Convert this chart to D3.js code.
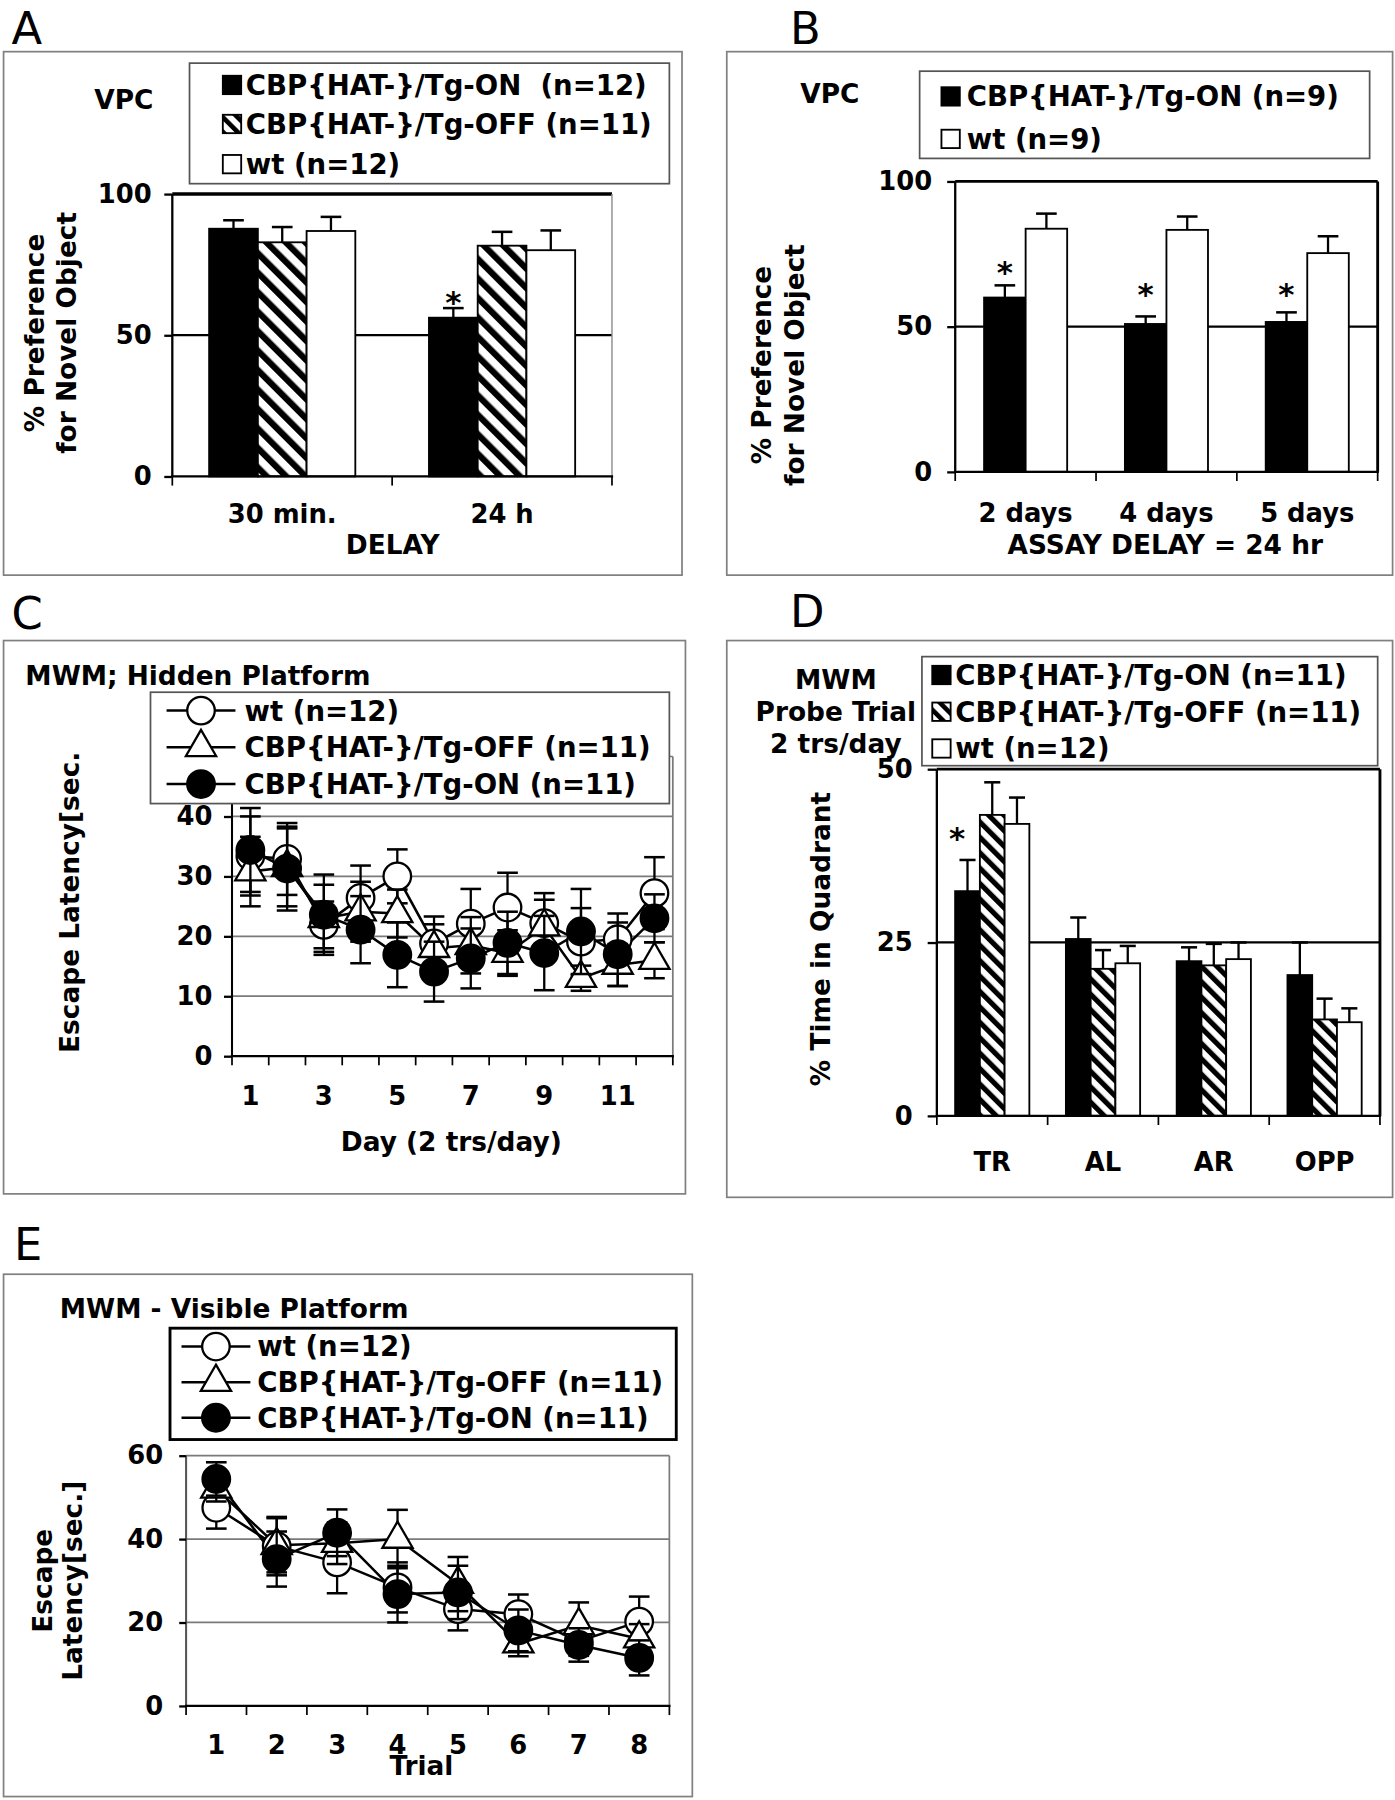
<!DOCTYPE html>
<html>
<head>
<meta charset="utf-8">
<script src="https://cdn.jsdelivr.net/npm/d3@7"></script>
<style>
  body { margin: 0; background: #fff; }
</style>
</head>
<body>
<div id="fig"></div>
<script>
// ---------------------------
// DATA
// ---------------------------

// A: VPC, two delays
const aDelays = ["30 min.", "24 h"];
const aOn = [87.7, 56.2], aOnErr = [3.0, 3.4];
const aOff = [82.9, 81.7], aOffErr = [5.4, 4.9];
const aWt = [86.9, 80.1], aWtErr = [5.0, 7.0];
const aTicks = [0, 50, 100];

// B: VPC, 24 hr delay on days 2/4/5
const bDays = ["2 days", "4 days", "5 days"];
const bOn = [60.0, 50.9, 51.6], bOnErr = [4.2, 2.6, 3.3];
const bWt = [83.7, 83.3, 75.3], bWtErr = [5.2, 4.6, 5.8];
const bTicks = [0, 50, 100];

// C: MWM hidden platform, days 1-12
const cDays = [1, 2, 3, 4, 5, 6, 7, 8, 9, 10, 11, 12];
const cDayLabels = [1, 3, 5, 7, 9, 11];
const cWt = [33.4, 32.9, 21.9, 26.4, 30.0, 18.8, 22.1, 24.8, 22.2, 19.1, 19.5, 27.2];
const cWtErr = [6.6, 6.0, 3.9, 5.4, 4.5, 4.5, 5.8, 5.8, 5.0, 5.6, 4.3, 6.0];
const cOff = [30.8, 31.5, 23.0, 24.1, 23.8, 18.0, 18.5, 17.2, 21.6, 13.0, 15.2, 16.0];
const cOffErr = [5.8, 6.5, 5.6, 5.0, 4.0, 4.0, 4.7, 3.8, 4.5, 2.1, 3.5, 3.0];
const cOn = [34.4, 31.3, 23.6, 21.1, 16.9, 14.1, 16.3, 18.9, 17.2, 20.8, 17.0, 23.0];
const cOnErr = [7.0, 7.0, 6.7, 5.6, 5.4, 5.0, 5.0, 5.2, 6.2, 7.1, 5.3, 4.0];
const cTicks = [0, 10, 20, 30, 40];

// D: probe trial, quadrants
const dQuad = ["TR", "AL", "AR", "OPP"];
const dOn = [32.4, 25.5, 22.3, 20.3], dOnErr = [4.5, 3.1, 2.0, 4.7];
const dOff = [43.4, 21.2, 21.7, 13.9], dOffErr = [4.7, 2.7, 3.1, 3.0];
const dWt = [42.1, 22.0, 22.6, 13.5], dWtErr = [3.8, 2.5, 2.4, 2.0];
const dTicks = [0, 25, 50];

// E: MWM visible platform, trials 1-8
const eTrials = [1, 2, 3, 4, 5, 6, 7, 8];
const eWt = [47.5, 38.3, 34.4, 28.4, 23.2, 22.0, 15.5, 20.2];
const eWtErr = [5.0, 7.0, 7.4, 6.0, 5.1, 4.7, 3.5, 6.0];
const eOff = [52.0, 38.5, 39.0, 40.0, 29.2, 14.9, 19.3, 16.1];
const eOffErr = [3.0, 6.5, 5.0, 7.0, 6.5, 3.0, 5.5, 3.5];
const eOn = [54.4, 35.2, 41.5, 26.8, 27.2, 18.1, 14.6, 11.5];
const eOnErr = [4.0, 6.6, 5.6, 6.8, 6.4, 5.0, 4.0, 4.2];
const eTicks = [0, 20, 40, 60];

// ---------------------------
// SETUP
// ---------------------------
const FONT = '"DejaVu Sans", Verdana, sans-serif';
const LEG = 24, TICK = 22.5, TITLE = 23;

const svg = d3.select("#fig").append("svg")
  .attr("width", 1395)
  .attr("height", 1800)
  .attr("viewBox", "0 0 1215 1568")
  .style("font-family", FONT)
  .style("background", "#fff");

const defs = svg.append("defs");
function hatch(id, w, sw) {
  const p = defs.append("pattern").attr("id", id)
    .attr("patternUnits", "userSpaceOnUse")
    .attr("width", w).attr("height", w)
    .attr("patternTransform", "rotate(-45)");
  p.append("rect").attr("width", w).attr("height", w).attr("fill", "#fff");
  p.append("rect").attr("width", sw).attr("height", w).attr("fill", "#000");
}
hatch("hatchA", 12, 5.5);
hatch("hatchD", 9.5, 4.5);
hatch("hatchL", 9, 4);

function txt(g, x, y, s, size, opts = {}) {
  return g.append("text")
    .attr("x", x).attr("y", y)
    .attr("font-size", size)
    .attr("font-weight", opts.weight || "bold")
    .attr("text-anchor", opts.anchor || "start")
    .attr("fill", "#000")
    .text(s);
}

function frame(g, f, letter, lp) {
  g.append("rect")
    .attr("x", f[0]).attr("y", f[1])
    .attr("width", f[2] - f[0]).attr("height", f[3] - f[1])
    .attr("fill", "none").attr("stroke", "#808080").attr("stroke-width", 1.5);
  txt(g, lp[0], lp[1], letter, 39, { weight: "normal" });
}

function yTitle(g, lines, xs, cy) {
  lines.forEach((s, i) => {
    g.append("text")
      .attr("transform", `translate(${xs[i]},${cy}) rotate(-90)`)
      .attr("text-anchor", "middle")
      .attr("dy", "0.36em")
      .attr("font-size", TITLE)
      .attr("font-weight", "bold")
      .text(s);
  });
}

function styleAxis(ga, size) {
  ga.select(".domain").remove();
  ga.selectAll(".tick line").attr("stroke", "#000").attr("stroke-width", 2);
  ga.selectAll(".tick text")
    .attr("font-family", FONT)
    .attr("font-size", size)
    .attr("font-weight", "bold")
    .attr("fill", "#000");
}

function hline(g, x1, x2, yy, color, w) {
  g.append("line").attr("x1", x1).attr("x2", x2).attr("y1", yy).attr("y2", yy)
    .attr("stroke", color).attr("stroke-width", w);
}
function vline(g, xx, y1, y2, color, w) {
  g.append("line").attr("x1", xx).attr("x2", xx).attr("y1", y1).attr("y2", y2)
    .attr("stroke", color).attr("stroke-width", w);
}

// ---------------------------
// BAR PANELS (A, B, D)
// ---------------------------
function barPanel(p) {
  const g = svg.append("g");
  frame(g, p.frame, p.letter, p.letterPos);

  const x = d3.scaleBand().domain(p.cats).range([p.plot.x0, p.plot.x1]);
  const y = d3.scaleLinear().domain(p.yDomain).range([p.plot.y1, p.plot.y0]);
  const inner = x.bandwidth() * p.groupFrac;
  const off = (x.bandwidth() - inner) / 2;
  const xs = d3.scaleBand().domain(p.series.map(s => s.key)).range([0, inner]);

  // chance line
  hline(g, p.plot.x0, p.plot.x1, y(p.ref), "#000", 2);

  p.series.forEach(s => {
    const rows = p.cats.map((c, i) => ({ c, v: s.values[i], e: s.errs[i] }));
    g.selectAll(null).data(rows).join("rect")
      .attr("x", d => x(d.c) + off + xs(s.key))
      .attr("y", d => y(d.v))
      .attr("width", xs.bandwidth())
      .attr("height", d => y(0) - y(d.v))
      .attr("fill", s.fill)
      .attr("stroke", "#000")
      .attr("stroke-width", 1.6);
  });

  // error bars (upward only)
  p.series.forEach(s => {
    p.cats.forEach((c, i) => {
      const cx = x(c) + off + xs(s.key) + xs.bandwidth() / 2;
      vline(g, cx, y(s.values[i]), y(s.values[i] + s.errs[i]), "#000", 2);
      hline(g, cx - p.cap, cx + p.cap, y(s.values[i] + s.errs[i]), "#000", 2.2);
    });
  });

  // asterisks
  p.stars.forEach(st => {
    const cx = x(st.cat) + off + xs(st.key) + xs.bandwidth() / 2 + (st.dx || 0);
    g.append("text").attr("x", cx).attr("y", y(st.v))
      .attr("dy", "0.57em").attr("text-anchor", "middle")
      .attr("font-size", 27).attr("font-weight", "bold").text("*");
  });

  // borders
  const B = p.borders;
  hline(g, p.plot.x0, p.plot.x1, p.plot.y0, B.top[0], B.top[1]);
  vline(g, p.plot.x1, p.plot.y0, p.plot.y1, B.right[0], B.right[1]);
  vline(g, p.plot.x0, p.plot.y0, p.plot.y1, "#000", 2);
  hline(g, p.plot.x0 - 1, p.plot.x1 + 1, p.plot.y1, "#000", 2);

  // y axis
  const ga = g.append("g").attr("transform", `translate(${p.plot.x0},0)`)
    .call(d3.axisLeft(y).tickValues(p.yTicks).tickSize(p.tick).tickPadding(p.pad));
  styleAxis(ga, TICK);

  // x axis: labels at band centres, ticks at band edges
  const gx = g.append("g").attr("transform", `translate(0,${p.plot.y1})`)
    .call(d3.axisBottom(x).tickSize(0).tickPadding(p.xpad));
  styleAxis(gx, TICK);
  const edges = p.cats.map(c => x(c)).concat([x.range()[1]]);
  edges.forEach(e => vline(g, e, p.plot.y1, p.plot.y1 + 8, "#000", 1.5));

  if (p.xTitle) txt(g, p.xTitle[1], p.xTitle[2], p.xTitle[0], TITLE, { anchor: "middle" });
  yTitle(g, p.yTitle, p.yTitleX, p.yTitleY);
  p.notes.forEach(n => txt(g, n[1], n[2], n[0], TITLE, { anchor: n[3] || "start" }));

  // legend
  const L = p.legend;
  g.append("rect").attr("x", L.box[0]).attr("y", L.box[1])
    .attr("width", L.box[2] - L.box[0]).attr("height", L.box[3] - L.box[1])
    .attr("fill", "#fff").attr("stroke", "#555").attr("stroke-width", 1.5);
  p.series.forEach((s, i) => {
    const ry = L.rows[i];
    g.append("rect").attr("x", L.sx).attr("y", ry - 8).attr("width", 16).attr("height", 16)
      .attr("fill", s.legFill || s.fill).attr("stroke", "#000").attr("stroke-width", 1.6);
    txt(g, L.tx, ry, s.label, LEG).attr("dy", "0.36em");
  });
}

barPanel({
  letter: "A", letterPos: [10, 38], frame: [3, 45, 594, 501],
  cats: aDelays, yDomain: [0, 100], yTicks: aTicks, ref: 50,
  plot: { x0: 150, x1: 533, y0: 169, y1: 415 },
  groupFrac: 0.665, cap: 9, tick: 7, pad: 11, xpad: 25,
  borders: { top: ["#000", 3], right: ["#888", 1.2] },
  series: [
    { key: "on", label: "CBP{HAT-}/Tg-ON\u00a0\u00a0(n=12)", values: aOn, errs: aOnErr, fill: "#000" },
    { key: "off", label: "CBP{HAT-}/Tg-OFF (n=11)", values: aOff, errs: aOffErr, fill: "url(#hatchA)", legFill: "url(#hatchL)" },
    { key: "wt", label: "wt (n=12)", values: aWt, errs: aWtErr, fill: "#fff" }
  ],
  stars: [{ cat: "24 h", key: "on", v: 64 }],
  xTitle: ["DELAY", 342, 483],
  yTitle: ["% Preference", "for Novel Object"], yTitleX: [30, 58], yTitleY: 290,
  notes: [["VPC", 82, 95]],
  legend: { box: [165, 55, 583, 160], rows: [74, 108, 143], sx: 194, tx: 214 }
});

barPanel({
  letter: "B", letterPos: [688, 38], frame: [633, 45, 1213, 501],
  cats: bDays, yDomain: [0, 100], yTicks: bTicks, ref: 50,
  plot: { x0: 832, x1: 1200, y0: 158, y1: 411 },
  groupFrac: 0.59, cap: 9, tick: 7, pad: 13, xpad: 28,
  borders: { top: ["#000", 2.5], right: ["#000", 2.5] },
  series: [
    { key: "on", label: "CBP{HAT-}/Tg-ON (n=9)", values: bOn, errs: bOnErr, fill: "#000" },
    { key: "wt", label: "wt (n=9)", values: bWt, errs: bWtErr, fill: "#fff" }
  ],
  stars: [{ cat: "2 days", key: "on", v: 71 }, { cat: "4 days", key: "on", v: 63.5 }, { cat: "5 days", key: "on", v: 63.5 }],
  xTitle: ["ASSAY DELAY = 24 hr", 1015, 483],
  yTitle: ["% Preference", "for Novel Object"], yTitleX: [663, 692], yTitleY: 318,
  notes: [["VPC", 697, 90]],
  legend: { box: [801, 62, 1193, 138], rows: [84, 121], sx: 820, tx: 842 }
});

barPanel({
  letter: "D", letterPos: [688, 546], frame: [633, 558, 1213, 1043],
  cats: dQuad, yDomain: [0, 50], yTicks: dTicks, ref: 25,
  plot: { x0: 816, x1: 1202, y0: 670, y1: 972 },
  groupFrac: 0.67, cap: 7, tick: 8, pad: 13, xpad: 32,
  borders: { top: ["#000", 2.5], right: ["#000", 2.5] },
  series: [
    { key: "on", label: "CBP{HAT-}/Tg-ON (n=11)", values: dOn, errs: dOnErr, fill: "#000" },
    { key: "off", label: "CBP{HAT-}/Tg-OFF (n=11)", values: dOff, errs: dOffErr, fill: "url(#hatchD)", legFill: "url(#hatchL)" },
    { key: "wt", label: "wt (n=12)", values: dWt, errs: dWtErr, fill: "#fff" }
  ],
  stars: [{ cat: "TR", key: "on", v: 41, dx: -9 }],
  xTitle: null,
  yTitle: ["% Time in Quadrant"], yTitleX: [715], yTitleY: 818,
  notes: [["MWM", 728, 600, "middle"], ["Probe Trial", 728, 628, "middle"], ["2 trs/day", 728, 656, "middle"]],
  legend: { box: [803, 572, 1200, 667], rows: [588, 620, 652], sx: 812, tx: 832 }
});

// ---------------------------
// LINE PANELS (C, E)
// ---------------------------
const triangle = d3.symbol().type(d3.symbolTriangle).size(300);

function marker(g, kind, x, y) {
  if (kind === "tri") {
    g.append("path").attr("d", triangle()).attr("transform", `translate(${x},${y})`)
      .attr("fill", "#fff").attr("stroke", "#000").attr("stroke-width", 2);
  } else {
    g.append("circle").attr("cx", x).attr("cy", y).attr("r", 12)
      .attr("fill", kind === "dot" ? "#000" : "#fff").attr("stroke", "#000").attr("stroke-width", 2);
  }
}

function linePanel(p) {
  const g = svg.append("g");
  frame(g, p.frame, p.letter, p.letterPos);

  const x = d3.scaleBand().domain(p.cats).range([p.plot.x0, p.plot.x1]);
  const y = d3.scaleLinear().domain(p.yDomain).range([p.plot.y1, p.plot.y0]);
  const cx = c => x(c) + x.bandwidth() / 2;

  p.grid.forEach(v => hline(g, p.plot.x0, p.plot.x1, y(v), "#7a7a7a", 1.5));
  hline(g, p.plot.x0, p.plot.x1, p.plot.y0, "#7a7a7a", 1.5);
  vline(g, p.plot.x1, p.plot.y0, p.plot.y1, "#7a7a7a", 1.5);
  vline(g, p.plot.x0, p.plot.y0, p.plot.y1, p.leftAxis, 1.8);
  hline(g, p.plot.x0 - 1, p.plot.x1 + 1, p.plot.y1, "#000", 2);

  const line = d3.line().x(d => d[0]).y(d => d[1]);
  p.series.forEach(s => {
    g.append("path")
      .attr("d", line(p.cats.map((c, i) => [cx(c), y(s.values[i])])))
      .attr("fill", "none").attr("stroke", "#000").attr("stroke-width", 2.2);
  });
  p.series.forEach(s => {
    p.cats.forEach((c, i) => {
      const xx = cx(c), v = s.values[i], e = s.errs[i];
      vline(g, xx, y(v - e), y(v + e), "#000", 2);
      hline(g, xx - 9, xx + 9, y(v + e), "#000", 2.2);
      hline(g, xx - 9, xx + 9, y(v - e), "#000", 2.2);
    });
    p.cats.forEach((c, i) => marker(g, s.kind, cx(c), y(s.values[i])));
  });

  const ga = g.append("g").attr("transform", `translate(${p.plot.x0},0)`)
    .call(d3.axisLeft(y).tickValues(p.yTicks).tickSize(p.tick).tickPadding(p.pad));
  styleAxis(ga, TICK);

  const gx = g.append("g").attr("transform", `translate(0,${p.plot.y1})`)
    .call(d3.axisBottom(x).tickValues(p.xLabels).tickSize(0).tickPadding(p.xpad));
  styleAxis(gx, TICK);
  const edges = p.cats.map(c => x(c)).concat([x.range()[1]]);
  edges.forEach(e => vline(g, e, p.plot.y1, p.plot.y1 + 8, "#000", 1.5));

  txt(g, p.title[1], p.title[2], p.title[0], TITLE);
  txt(g, p.xTitle[1], p.xTitle[2], p.xTitle[0], TITLE, { anchor: "middle" });
  yTitle(g, p.yTitle, p.yTitleX, p.yTitleY);

  // legend (drawn last, covers the top of the plot)
  const L = p.legend;
  g.append("rect").attr("x", L.box[0]).attr("y", L.box[1])
    .attr("width", L.box[2] - L.box[0]).attr("height", L.box[3] - L.box[1])
    .attr("fill", "#fff").attr("stroke", L.stroke[0]).attr("stroke-width", L.stroke[1]);
  p.series.forEach((s, i) => {
    const ry = L.rows[i];
    hline(g, L.l0, L.l1, ry, "#000", 2.2);
    marker(g, s.kind, (L.l0 + L.l1) / 2, ry);
    txt(g, L.tx, ry, s.label, LEG).attr("dy", "0.36em");
  });
}

linePanel({
  letter: "C", letterPos: [10, 548], frame: [3, 558, 597, 1040],
  cats: cDays, xLabels: cDayLabels, yDomain: [0, 50], yTicks: cTicks, grid: [10, 20, 30, 40],
  plot: { x0: 202, x1: 586, y0: 659, y1: 920 },
  leftAxis: "#000", tick: 7, pad: 10, xpad: 27,
  series: [
    { kind: "open", label: "wt (n=12)", values: cWt, errs: cWtErr },
    { kind: "tri", label: "CBP{HAT-}/Tg-OFF (n=11)", values: cOff, errs: cOffErr },
    { kind: "dot", label: "CBP{HAT-}/Tg-ON (n=11)", values: cOn, errs: cOnErr }
  ],
  title: ["MWM; Hidden Platform", 22, 597],
  xTitle: ["Day (2 trs/day)", 393, 1003],
  yTitle: ["Escape Latency[sec."], yTitleX: [60], yTitleY: 786,
  legend: { box: [131, 603, 583, 700], rows: [619, 651, 683], l0: 145, l1: 205, tx: 213, stroke: ["#555", 1.5] }
});

linePanel({
  letter: "E", letterPos: [12, 1098], frame: [3, 1110, 603, 1565],
  cats: eTrials, xLabels: eTrials, yDomain: [0, 60], yTicks: eTicks, grid: [20, 40],
  plot: { x0: 162, x1: 583, y0: 1268, y1: 1486 },
  leftAxis: "#555", tick: 6, pad: 14, xpad: 26,
  series: [
    { kind: "open", label: "wt (n=12)", values: eWt, errs: eWtErr },
    { kind: "tri", label: "CBP{HAT-}/Tg-OFF (n=11)", values: eOff, errs: eOffErr },
    { kind: "dot", label: "CBP{HAT-}/Tg-ON (n=11)", values: eOn, errs: eOnErr }
  ],
  title: ["MWM - Visible Platform", 52, 1148],
  xTitle: ["Trial", 367, 1546],
  yTitle: ["Escape", "Latency[sec.]"], yTitleX: [37, 63], yTitleY: 1377,
  legend: { box: [148, 1157, 589, 1254], rows: [1173, 1204, 1235], l0: 158, l1: 218, tx: 224, stroke: ["#000", 2.5] }
});
</script>
</body>
</html>
